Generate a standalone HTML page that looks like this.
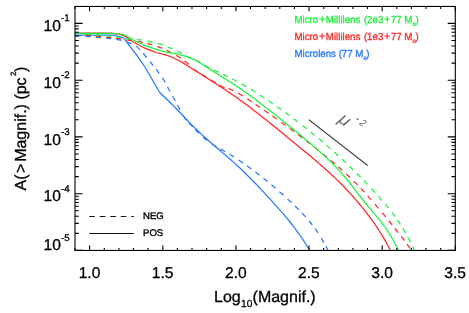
<!DOCTYPE html>
<html><head><meta charset="utf-8"><title>plot</title>
<style>
html,body{margin:0;padding:0;background:#fff;}
svg{display:block}
text{font-family:"Liberation Sans",sans-serif;text-rendering:geometricPrecision;}
</style></head><body>
<svg width="469" height="313" viewBox="0 0 469 313">
<rect width="469" height="313" fill="#fff"/>

<g fill="none" stroke-width="1.25" stroke-linejoin="round">
<polyline points="75.0,35.1 113.0,35.2 119.3,36.5 123.5,37.9 124.8,39.3 132.4,49.6 136.0,54.2 144.6,66.5 152.5,80.0 159.6,92.3 168.8,101.3 170.8,103.2 172.8,105.1 174.8,107.1 176.8,109.2 178.8,111.3 180.8,113.4 182.8,115.5 184.8,117.6 186.8,119.8 188.8,121.8 190.8,123.9 192.8,125.9 194.8,127.9 196.8,129.8 198.8,131.7 200.8,133.6 202.8,135.4 204.8,137.2 206.8,139.0 208.8,140.8 210.8,142.5 212.8,144.3 214.8,146.0 216.8,147.7 218.8,149.4 220.8,151.1 222.8,152.9 224.8,154.6 226.8,156.3 228.8,158.1 230.8,159.8 232.8,161.6 234.8,163.4 236.8,165.2 238.8,167.0 240.8,168.9 242.8,170.8 244.8,172.7 246.8,174.7 248.8,176.7 250.8,178.7 252.8,180.7 254.8,182.8 256.8,184.9 258.8,187.0 260.8,189.1 262.8,191.2 264.8,193.4 266.8,195.6 268.8,197.7 270.8,199.9 272.8,202.2 274.8,204.4 276.8,206.6 278.8,208.9 280.8,211.1 282.8,213.4 284.8,215.7 286.8,218.1 288.8,220.5 290.8,223.0 292.8,225.6 294.8,228.2 296.8,230.8 298.8,233.6 300.8,236.5 302.8,239.4 304.8,242.5 306.8,245.7 308.8,248.9 309.6,250.3" stroke="#2878ff"/>
<path d="M75.1,35.6L80.3,35.9M85.6,36.3L87.5,36.4L90.8,36.7M95.8,37.2L98.4,37.4L101.0,37.6M106.0,38.1L108.6,38.3L111.2,38.7M116.3,39.4L119.0,39.8L121.5,40.4M126.6,41.7L126.7,41.7L131.3,43.8L131.4,43.9M136.1,46.0L136.3,46.1L139.8,49.6L139.9,49.7M143.2,53.4L146.6,57.5M149.9,61.6L151.5,63.5L153.2,65.7M156.1,69.2L157.7,71.3L159.2,73.5M162.4,77.9L164.1,80.3L165.2,82.3M167.5,86.8L168.7,89.2L170.0,91.5M172.6,96.2L173.9,98.5L175.2,100.8M177.5,105.2L178.8,107.5L179.9,109.9M183.3,115.9L186.0,119.8L186.4,120.2M189.1,123.1L190.0,124.1L192.0,126.1L192.7,126.9M195.1,129.4L196.0,130.3L198.0,132.3L198.9,133.2M203.0,137.1L204.0,138.0L206.0,139.8L207.0,140.6M211.8,144.0L212.0,144.2L214.0,145.4L216.0,146.6L216.3,146.7M220.5,149.0L222.0,149.9L224.0,151.0L225.1,151.6M229.4,154.1L230.0,154.5L232.0,155.7L233.9,156.9M238.7,160.0L240.0,160.9L242.0,162.3L243.1,163.0M247.1,165.8L248.0,166.5L250.0,168.0L251.3,168.9M255.4,172.0L256.0,172.4L258.0,174.0L259.6,175.2M263.4,178.2L264.0,178.7L266.0,180.3L267.6,181.6M271.5,184.8L272.0,185.3L274.0,187.0L275.5,188.3M279.5,191.8L280.0,192.2L282.0,194.0L283.5,195.3M287.6,199.0L288.0,199.4L290.0,201.3L291.4,202.7M295.0,206.1L296.0,207.0L298.0,209.0L298.8,209.8M302.0,213.0L302.0,213.0L304.0,215.1L305.6,216.9M309.0,220.8L310.0,222.0L312.0,224.5L312.3,225.0M315.0,228.5L316.0,229.9L318.0,232.8M321.2,238.0L322.0,239.2L323.9,242.6M326.0,246.4L326.0,246.4L328.0,250.3" stroke="#2878ff"/>
<polyline points="75.0,33.1 111.0,33.2 119.3,34.2 124.0,35.6 127.0,37.6 130.9,40.3 139.0,45.2 146.0,48.7 152.0,50.8 156.2,52.5 166.5,55.2 171.6,57.0 176.7,59.5 181.8,62.1 186.0,64.8 191.0,68.0 193.0,69.3 195.0,70.5 197.0,71.8 199.0,73.0 201.0,74.3 203.0,75.5 205.0,76.8 207.0,78.1 209.0,79.3 211.0,80.6 213.0,81.9 215.0,83.1 217.0,84.4 219.0,85.7 221.0,87.0 223.0,88.3 225.0,89.6 227.0,91.0 229.0,92.3 231.0,93.7 233.0,95.0 235.0,96.4 237.0,97.8 239.0,99.3 241.0,100.7 243.0,102.2 245.0,103.6 247.0,105.1 249.0,106.6 251.0,108.1 253.0,109.7 255.0,111.2 257.0,112.7 259.0,114.3 261.0,115.9 263.0,117.4 265.0,119.0 267.0,120.6 269.0,122.2 271.0,123.8 273.0,125.5 275.0,127.1 277.0,128.7 279.0,130.3 281.0,132.0 283.0,133.6 285.0,135.2 287.0,136.9 289.0,138.5 291.0,140.2 293.0,141.8 295.0,143.4 297.0,145.1 299.0,146.7 301.0,148.4 303.0,150.0 305.0,151.7 307.0,153.3 309.0,155.0 311.0,156.6 313.0,158.3 315.0,160.0 317.0,161.7 319.0,163.4 321.0,165.2 323.0,166.9 325.0,168.7 327.0,170.5 329.0,172.3 331.0,174.2 333.0,176.0 335.0,177.9 337.0,179.9 339.0,181.8 341.0,183.8 343.0,185.8 345.0,187.9 347.0,190.0 349.0,192.1 351.0,194.3 353.0,196.5 355.0,198.8 357.0,201.1 359.0,203.5 361.0,205.9 363.0,208.3 365.0,210.9 367.0,213.5 369.0,216.1 371.0,218.8 373.0,221.6 375.0,224.5 377.0,227.4 379.0,230.5 381.0,233.6 383.0,236.9 385.0,240.4 387.0,244.0 389.0,247.7 390.3,250.3" stroke="#ff2626"/>
<path d="M85.6,35.2L87.5,35.4L90.8,35.7M95.8,36.2L98.4,36.4L101.0,36.7M106.0,37.1L108.6,37.4L111.2,37.7M116.2,38.3L119.0,38.7L121.4,39.1M126.4,39.9L128.3,40.2L131.6,40.7M137.6,41.5L140.2,41.9L142.8,42.5M147.2,43.6L149.8,44.2L152.3,45.0M157.3,46.5L159.8,47.3L162.2,48.4M166.4,50.3L168.8,51.4L171.1,52.7M176.2,55.4L178.5,56.7L180.7,58.2M184.5,61.1L186.7,62.6L188.6,64.5M193.5,68.9L197.7,72.1M202.1,74.9L206.7,77.6M211.0,80.2L211.6,80.6L215.6,82.9M219.8,85.3L222.0,86.6L224.6,87.4M228.5,88.6L231.0,89.5L233.0,90.4L233.4,90.6M238.2,93.1L239.0,93.6L241.0,94.8L242.8,95.9M247.3,98.8L249.0,100.0L251.0,101.3L251.7,101.8M255.6,104.4L257.0,105.4L259.0,106.7L260.0,107.4M264.3,110.4L265.0,110.8L267.0,112.2L268.7,113.4M272.4,116.0L273.0,116.4L275.0,117.8L276.8,119.0M281.4,122.4L283.0,123.5L285.0,124.9L285.7,125.5M289.8,128.4L291.0,129.3L293.0,130.8L294.0,131.6M298.1,134.6L299.0,135.3L301.0,136.8L302.3,137.8M306.3,140.8L307.0,141.4L309.0,142.9L310.5,144.1M314.5,147.3L315.0,147.6L317.0,149.2L318.7,150.6M322.6,153.8L323.0,154.0L325.0,155.7L326.7,157.1M330.9,160.5L331.0,160.6L333.0,162.3L334.9,163.9M338.3,166.9L339.0,167.5L341.0,169.2L342.3,170.4M346.2,173.9L347.0,174.6L349.0,176.5L350.0,177.5M353.8,181.2L355.0,182.4L357.0,184.4L357.6,185.0M360.8,188.3L361.0,188.6L363.0,190.7L364.4,192.2M367.7,195.9L369.0,197.4L371.0,199.6L371.2,199.9M375.0,204.2L375.0,204.2L377.0,206.6L378.4,208.3M382.3,212.9L383.0,213.7L385.0,216.1L385.7,217.0M388.8,220.8L389.0,221.0L391.0,223.5L392.2,224.9M394.9,228.4L395.0,228.5L397.0,231.0L398.2,232.6M401.2,236.3L403.0,238.7L404.4,240.5M407.0,244.0L407.0,244.0L409.0,246.8L410.0,248.3" stroke="#ff2626"/>
<polyline points="75.0,33.4 111.0,33.4 119.3,34.0 124.0,34.8 127.0,36.3 130.9,38.3 135.2,41.0 142.9,44.6 146.0,45.9 152.0,47.8 156.2,49.4 166.5,52.1 176.7,53.9 186.0,56.3 195.0,59.8 197.0,60.9 199.0,62.1 201.0,63.3 203.0,64.7 205.0,66.0 207.0,67.3 209.0,68.6 211.0,69.9 213.0,71.1 215.0,72.4 217.0,73.7 219.0,74.9 221.0,76.2 223.0,77.4 225.0,78.7 227.0,79.9 229.0,81.2 231.0,82.5 233.0,83.8 235.0,85.1 237.0,86.4 239.0,87.7 241.0,89.1 243.0,90.5 245.0,91.9 247.0,93.3 249.0,94.7 251.0,96.2 253.0,97.6 255.0,99.1 257.0,100.6 259.0,102.2 261.0,103.7 263.0,105.2 265.0,106.8 267.0,108.3 269.0,109.9 271.0,111.5 273.0,113.1 275.0,114.6 277.0,116.2 279.0,117.8 281.0,119.4 283.0,121.0 285.0,122.6 287.0,124.2 289.0,125.8 291.0,127.4 293.0,129.0 295.0,130.6 297.0,132.2 299.0,133.9 301.0,135.5 303.0,137.2 305.0,138.9 307.0,140.5 309.0,142.2 311.0,143.9 313.0,145.7 315.0,147.4 317.0,149.2 319.0,150.9 321.0,152.7 323.0,154.5 325.0,156.3 327.0,158.2 329.0,160.1 331.0,162.0 333.0,164.0 335.0,166.1 337.0,168.1 339.0,170.3 341.0,172.5 343.0,174.8 345.0,177.1 347.0,179.5 349.0,182.0 351.0,184.6 353.0,187.1 355.0,189.7 357.0,192.3 359.0,194.9 361.0,197.5 363.0,200.0 365.0,202.5 367.0,205.0 369.0,207.4 371.0,209.7 373.0,212.1 375.0,214.4 377.0,216.8 379.0,219.2 381.0,221.7 383.0,224.3 385.0,227.0 387.0,229.9 389.0,233.0 391.0,236.2 393.0,239.7 395.0,243.5 397.0,247.5 398.3,250.3" stroke="#1ef03c"/>
<path d="M85.6,34.2L87.5,34.4L90.8,34.6M95.8,35.0L98.4,35.2L101.0,35.4M106.0,35.8L108.6,36.0L111.2,36.4M116.2,37.1L119.0,37.5L121.4,37.8M126.4,38.6L128.0,38.8L131.6,39.1M136.8,39.6L139.4,39.8L142.0,40.2M147.5,41.2L150.1,41.6L152.7,42.3M157.7,43.5L160.3,44.2L162.8,45.1M167.6,47.0L170.1,47.9L172.5,49.0M177.1,51.0L179.5,52.1L181.8,53.4M186.3,56.0L187.0,56.4L191.1,58.1M195.6,60.0L200.0,62.5L200.2,62.6M204.7,65.2L207.0,66.5L209.4,67.7M213.7,70.0L216.1,71.2L218.1,72.1L218.5,72.3M223.2,74.5L224.1,74.9L226.1,75.9L228.0,76.8M232.4,78.9L234.1,79.8L236.1,80.8L237.1,81.4M241.8,83.9L242.1,84.1L244.1,85.2L246.1,86.4L246.4,86.6M251.1,89.4L252.1,90.0L254.1,91.3L255.5,92.2M260.1,95.1L260.1,95.2L262.1,96.5L264.1,97.8L264.5,98.1M268.5,100.7L270.1,101.8L272.1,103.2L272.9,103.7M277.1,106.7L278.1,107.4L280.1,108.8L281.5,109.7M285.3,112.5L286.1,113.1L288.1,114.5L289.5,115.6M293.6,118.6L294.1,119.0L296.1,120.5L297.8,121.8M302.6,125.5L304.1,126.7L306.1,128.3L306.8,128.8M310.6,131.9L312.1,133.1L314.1,134.7L314.7,135.3M318.9,138.7L320.1,139.7L322.1,141.4L322.9,142.1M326.6,145.3L328.1,146.6L330.1,148.4L330.6,148.8M334.3,152.1L336.1,153.7L338.1,155.5L338.3,155.7M342.2,159.3L344.1,161.1L346.0,162.9M349.4,166.1L350.1,166.8L352.1,168.8L353.2,169.8M356.9,173.5L358.1,174.7L360.1,176.7L360.7,177.3M363.9,180.6L364.1,180.8L366.1,182.9L367.5,184.4M371.6,188.8L372.1,189.3L374.1,191.5L375.2,192.7M378.5,196.4L380.1,198.1L382.0,200.4M385.3,204.1L386.1,205.1L388.1,207.5L388.7,208.2M392.0,212.4L392.1,212.5L394.1,215.2L395.2,216.7M397.5,220.0L398.1,220.8L400.1,223.9L400.5,224.4M402.9,228.4L404.1,230.3L405.6,232.9M408.1,237.3L408.1,237.4L410.1,241.2L410.5,242.0M412.8,246.6L414.1,249.4L414.5,250.3" stroke="#1ef03c"/>
</g>
<line x1="308.9" y1="119.7" x2="367.7" y2="165.5" stroke="#444" stroke-width="1.1"/>
<text transform="translate(337.5,121.2) rotate(38)" font-family="DejaVu Sans, sans-serif" font-weight="200" font-style="italic" font-size="18" fill="#6e6e6e">μ<tspan dx="2.8" dy="-11" font-size="11" fill="#555">-</tspan><tspan dx="2" font-size="10">2</tspan></text>
<line x1="89.3" y1="216.5" x2="133.9" y2="216.5" stroke="#111" stroke-width="1" stroke-dasharray="5.6 4.9"/>
<line x1="89.3" y1="233.5" x2="133.9" y2="233.5" stroke="#111" stroke-width="1"/>
<text x="143.0" y="219" font-size="9.6" stroke="#000" stroke-width="0.35">NEG</text>
<text x="143.0" y="236" font-size="9.6" stroke="#000" stroke-width="0.35">POS</text>
<text transform="translate(294.5,23.3) scale(1,1.05)" font-size="9.7" fill="#1ef03c" stroke="#1ef03c" stroke-width="0.3" style="text-rendering:geometricPrecision">Micro<tspan dx="0.7" font-size="10.9">+</tspan><tspan dx="0.6">Millilens</tspan><tspan dx="0.9"> (2e3</tspan><tspan dx="0.7" font-size="10.9">+</tspan><tspan dx="0.5">77 M</tspan><tspan dy="2.2" font-size="6">o</tspan><tspan dy="-2.2" dx="-0.4">)</tspan></text>
<text transform="translate(294.5,40.4) scale(1,1.05)" font-size="9.7" fill="#ff2626" stroke="#ff2626" stroke-width="0.3" style="text-rendering:geometricPrecision">Micro<tspan dx="0.7" font-size="10.9">+</tspan><tspan dx="0.6">Millilens</tspan><tspan dx="0.9"> (1e3</tspan><tspan dx="0.7" font-size="10.9">+</tspan><tspan dx="0.5">77 M</tspan><tspan dy="2.2" font-size="6">o</tspan><tspan dy="-2.2" dx="-0.4">)</tspan></text>
<text transform="translate(294.5,57.2) scale(1,1.05)" font-size="9.7" fill="#2878ff" stroke="#2878ff" stroke-width="0.3" style="text-rendering:geometricPrecision">Microlens (77 M<tspan dy="2.2" font-size="6">o</tspan><tspan dy="-2.2" dx="-0.4">)</tspan></text>
<g stroke="#000" stroke-width="1.1" fill="none">
<rect x="75.0" y="6.45" width="380.3" height="244.0"/>
<path d="M75.0,250.45v-2.5M75.0,6.45v2.5M89.6,250.45v-4.9M89.6,6.45v4.9M104.3,250.45v-2.5M104.3,6.45v2.5M118.9,250.45v-2.5M118.9,6.45v2.5M133.5,250.45v-2.5M133.5,6.45v2.5M148.1,250.45v-2.5M148.1,6.45v2.5M162.8,250.45v-4.9M162.8,6.45v4.9M177.4,250.45v-2.5M177.4,6.45v2.5M192.0,250.45v-2.5M192.0,6.45v2.5M206.6,250.45v-2.5M206.6,6.45v2.5M221.3,250.45v-2.5M221.3,6.45v2.5M235.9,250.45v-4.9M235.9,6.45v4.9M250.5,250.45v-2.5M250.5,6.45v2.5M265.2,250.45v-2.5M265.2,6.45v2.5M279.8,250.45v-2.5M279.8,6.45v2.5M294.4,250.45v-2.5M294.4,6.45v2.5M309.0,250.45v-4.9M309.0,6.45v4.9M323.7,250.45v-2.5M323.7,6.45v2.5M338.3,250.45v-2.5M338.3,6.45v2.5M352.9,250.45v-2.5M352.9,6.45v2.5M367.5,250.45v-2.5M367.5,6.45v2.5M382.2,250.45v-4.9M382.2,6.45v4.9M396.8,250.45v-2.5M396.8,6.45v2.5M411.4,250.45v-2.5M411.4,6.45v2.5M426.0,250.45v-2.5M426.0,6.45v2.5M440.7,250.45v-2.5M440.7,6.45v2.5M455.3,250.45v-4.9M455.3,6.45v4.9M75.0,250.4h7.6M455.3,250.4h-7.6M75.0,233.4h3.8M455.3,233.4h-3.8M75.0,223.4h3.8M455.3,223.4h-3.8M75.0,216.3h3.8M455.3,216.3h-3.8M75.0,210.8h3.8M455.3,210.8h-3.8M75.0,206.3h3.8M455.3,206.3h-3.8M75.0,202.5h3.8M455.3,202.5h-3.8M75.0,199.2h3.8M455.3,199.2h-3.8M75.0,196.3h3.8M455.3,196.3h-3.8M75.0,193.7h7.6M455.3,193.7h-7.6M75.0,176.6h3.8M455.3,176.6h-3.8M75.0,166.6h3.8M455.3,166.6h-3.8M75.0,159.5h3.8M455.3,159.5h-3.8M75.0,154.0h3.8M455.3,154.0h-3.8M75.0,149.5h3.8M455.3,149.5h-3.8M75.0,145.7h3.8M455.3,145.7h-3.8M75.0,142.4h3.8M455.3,142.4h-3.8M75.0,139.5h3.8M455.3,139.5h-3.8M75.0,136.9h7.6M455.3,136.9h-7.6M75.0,119.8h3.8M455.3,119.8h-3.8M75.0,109.8h3.8M455.3,109.8h-3.8M75.0,102.8h3.8M455.3,102.8h-3.8M75.0,97.2h3.8M455.3,97.2h-3.8M75.0,92.8h3.8M455.3,92.8h-3.8M75.0,89.0h3.8M455.3,89.0h-3.8M75.0,85.7h3.8M455.3,85.7h-3.8M75.0,82.8h3.8M455.3,82.8h-3.8M75.0,80.2h7.6M455.3,80.2h-7.6M75.0,63.1h3.8M455.3,63.1h-3.8M75.0,53.1h3.8M455.3,53.1h-3.8M75.0,46.0h3.8M455.3,46.0h-3.8M75.0,40.5h3.8M455.3,40.5h-3.8M75.0,36.0h3.8M455.3,36.0h-3.8M75.0,32.2h3.8M455.3,32.2h-3.8M75.0,28.9h3.8M455.3,28.9h-3.8M75.0,26.0h3.8M455.3,26.0h-3.8M75.0,23.4h7.6M455.3,23.4h-7.6"/>
</g>
<g stroke="#000" stroke-width="0.3">
<text transform="translate(89.5,278.2) scale(1,1)" font-size="15.6" text-anchor="middle">1.0</text>
<text transform="translate(162.7,278.2) scale(1,1)" font-size="15.6" text-anchor="middle">1.5</text>
<text transform="translate(235.8,278.2) scale(1,1)" font-size="15.6" text-anchor="middle">2.0</text>
<text transform="translate(308.9,278.2) scale(1,1)" font-size="15.6" text-anchor="middle">2.5</text>
<text transform="translate(382.1,278.2) scale(1,1)" font-size="15.6" text-anchor="middle">3.0</text>
<text transform="translate(455.2,278.2) scale(1,1)" font-size="15.6" text-anchor="middle">3.5</text>
<text transform="translate(43.6,31.0) scale(1,1)" font-size="15.6">10<tspan dy="-9.6" font-size="9.7">-1</tspan></text>
<text transform="translate(43.6,87.8) scale(1,1)" font-size="15.6">10<tspan dy="-9.6" font-size="9.7">-2</tspan></text>
<text transform="translate(43.6,144.5) scale(1,1)" font-size="15.6">10<tspan dy="-9.6" font-size="9.7">-3</tspan></text>
<text transform="translate(43.6,201.3) scale(1,1)" font-size="15.6">10<tspan dy="-9.6" font-size="9.7">-4</tspan></text>
<text transform="translate(43.6,250.4) scale(1,1)" font-size="15.6">10<tspan dy="-9.6" font-size="9.7">-5</tspan></text>
<text x="214" y="302" font-size="16">Log<tspan dy="4.5" dx="0.3" font-size="10.2">10</tspan><tspan dy="-4.5" dx="0.2">(Magnif.)</tspan></text>
<text transform="translate(25.5,190.5) rotate(-90)" font-size="16">A(<tspan dx="1.4">&gt;</tspan><tspan dx="1.9">Magnif.) (pc</tspan><tspan dy="-10" dx="1.5" font-size="7.8">2</tspan><tspan dy="10" dx="-0.5">)</tspan></text>
</g>
</svg></body></html>
